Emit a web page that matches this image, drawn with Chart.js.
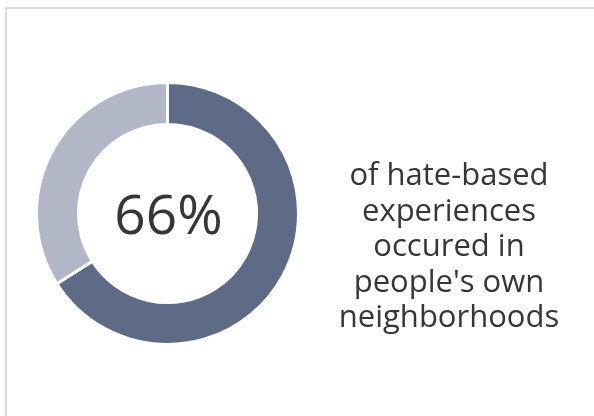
<!DOCTYPE html>
<html>
<head>
<meta charset="utf-8">
<script src="https://cdn.jsdelivr.net/npm/chart.js@4/dist/chart.umd.min.js"></script>
<style>
  html, body { margin: 0; padding: 0; background: #fff; }
  body { width: 594px; height: 416px; overflow: hidden; position: relative; }
  #frame {
    position: absolute; left: 5px; top: 7px; width: 600px; height: 420px;
    border-left: 2px solid #dcdcdc; border-top: 2px solid #dcdcdc;
  }
  #wrap { position: absolute; left: 0; top: 0; width: 594px; height: 416px; }
</style>
</head>
<body>
<div id="frame"></div>
<div id="wrap"><canvas id="myChart"></canvas></div>
<script>
// share of hate-based experiences in own neighborhood vs elsewhere
var labels = ['Own neighborhood', 'Elsewhere'];
var values = [66, 34];
var colors = ['#5e6b87', '#b1b7c6'];
var centerLabel = '66%';
var sideLines = ['of hate-based', 'experiences', 'occured in', "people's own", 'neighborhoods'];

var textPlugin = {
  id: 'textPlugin',
  afterDraw: function(chart) {
    var ctx = chart.ctx;
    var arc = chart.getDatasetMeta(0).data[0];
    ctx.save();
    ctx.fillStyle = '#363636';
    ctx.textAlign = 'center';
    ctx.textBaseline = 'alphabetic';
    ctx.font = '400 55px "Open Sans"';
    ctx.fillText(centerLabel, arc.x + 1, 234);
    ctx.font = '400 31px "Open Sans"';
    for (var i = 0; i < sideLines.length; i++) {
      ctx.fillText(sideLines[i], 449, 185 + i * 35.5);
    }
    ctx.restore();
  }
};

var config = {
  type: 'doughnut',
  data: {
    labels: labels,
    datasets: [{
      data: values,
      backgroundColor: colors,
      borderColor: '#ffffff',
      borderWidth: 3,
      hoverOffset: 0
    }]
  },
  options: {
    responsive: false,
    animation: false,
    cutout: '68%',
    layout: { padding: { left: 35, top: 80, right: 294, bottom: 69 } },
    plugins: {
      legend: { display: false },
      tooltip: { enabled: false },
      title: { display: false }
    }
  },
  plugins: [textPlugin]
};

var canvas = document.getElementById('myChart');
canvas.width = 594;
canvas.height = 416;
window.donut_chart = new Chart(canvas, config);
</script>
</body>
</html>
